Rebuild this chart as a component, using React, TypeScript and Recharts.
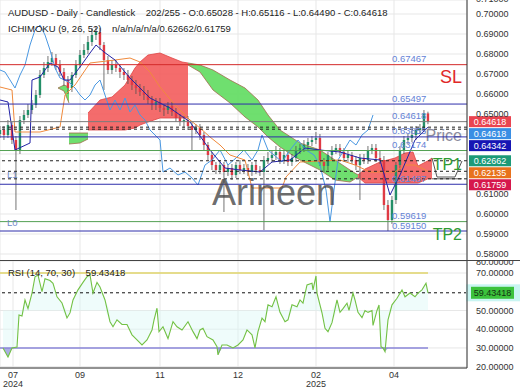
import React from 'react';
import { ComposedChart, Bar, Line, Area, XAxis, YAxis, CartesianGrid, ReferenceLine } from 'recharts';

const FONT = '"Liberation Sans", Arial, Helvetica, sans-serif';

// daily candles, one slot per bar
const OPENS = [
  0.6400, 0.6420, 0.6395, 0.6445, 0.6370, 0.6320, 0.6470, 0.6495, 0.6520, 0.6545,
  0.6595, 0.6695, 0.6730, 0.6760, 0.6780, 0.6745, 0.6710, 0.6670, 0.6630, 0.6695,
  0.6745, 0.6795, 0.6820, 0.6860, 0.6895, 0.6910, 0.6845, 0.6770, 0.6720, 0.6745,
  0.6730, 0.6710, 0.6695, 0.6670, 0.6645, 0.6630, 0.6610, 0.6595, 0.6570, 0.6545,
  0.6560, 0.6530, 0.6520, 0.6540, 0.6510, 0.6480, 0.6460, 0.6470, 0.6440, 0.6420,
  0.6430, 0.6395, 0.6345, 0.6295, 0.6245, 0.6220, 0.6245, 0.6210, 0.6230, 0.6195,
  0.6245, 0.6220, 0.6230, 0.6210, 0.6245, 0.6220, 0.6210, 0.6270, 0.6280, 0.6295,
  0.6310, 0.6270, 0.6295, 0.6260, 0.6280, 0.6320, 0.6330, 0.6345, 0.6360, 0.6370,
  0.6380, 0.6260, 0.6240, 0.6295, 0.6320, 0.6330, 0.6310, 0.6280, 0.6295, 0.6270,
  0.6245, 0.6280, 0.6270, 0.6320, 0.6330, 0.6280, 0.6270, 0.6045, 0.5970, 0.6070,
  0.6245, 0.6320, 0.6370, 0.6380, 0.6395, 0.6420, 0.6430, 0.65028,
];
const HIGHS = [
  0.644, 0.644, 0.647, 0.646, 0.639, 0.649, 0.652, 0.655, 0.657, 0.662,
  0.672, 0.676, 0.679, 0.681, 0.680, 0.677, 0.673, 0.669, 0.671, 0.677,
  0.682, 0.685, 0.689, 0.693, 0.694, 0.693, 0.686, 0.679, 0.677, 0.677,
  0.675, 0.673, 0.672, 0.669, 0.667, 0.665, 0.664, 0.662, 0.659, 0.658,
  0.658, 0.655, 0.656, 0.656, 0.653, 0.650, 0.649, 0.649, 0.646, 0.645,
  0.645, 0.641, 0.636, 0.631, 0.626, 0.627, 0.626, 0.625, 0.625, 0.626,
  0.627, 0.625, 0.625, 0.626, 0.627, 0.624, 0.629, 0.631, 0.632, 0.634,
  0.633, 0.632, 0.631, 0.630, 0.634, 0.635, 0.637, 0.638, 0.639, 0.641,
  0.640, 0.628, 0.631, 0.634, 0.635, 0.635, 0.633, 0.632, 0.631, 0.629,
  0.630, 0.630, 0.634, 0.635, 0.635, 0.632, 0.629, 0.607, 0.609, 0.626,
  0.634, 0.639, 0.640, 0.642, 0.644, 0.645, 0.652, 0.65116,
];
const LOWS = [
  0.638, 0.637, 0.638, 0.635, 0.602, 0.630, 0.645, 0.648, 0.650, 0.653,
  0.658, 0.668, 0.671, 0.674, 0.672, 0.669, 0.664, 0.660, 0.661, 0.668,
  0.673, 0.678, 0.680, 0.684, 0.687, 0.682, 0.662, 0.670, 0.670, 0.671,
  0.668, 0.667, 0.665, 0.662, 0.660, 0.659, 0.657, 0.655, 0.652, 0.652,
  0.651, 0.649, 0.650, 0.649, 0.646, 0.644, 0.643, 0.642, 0.632, 0.640,
  0.637, 0.632, 0.627, 0.622, 0.620, 0.620, 0.601, 0.619, 0.617, 0.618,
  0.620, 0.620, 0.619, 0.619, 0.620, 0.619, 0.592, 0.625, 0.626, 0.627,
  0.625, 0.625, 0.624, 0.624, 0.626, 0.630, 0.631, 0.632, 0.634, 0.635,
  0.624, 0.621, 0.622, 0.627, 0.630, 0.629, 0.626, 0.626, 0.625, 0.622,
  0.607, 0.625, 0.625, 0.630, 0.626, 0.625, 0.602, 0.5915, 0.595, 0.605,
  0.622, 0.630, 0.635, 0.636, 0.637, 0.640, 0.641, 0.6449,
];
const CLOSES = [
  0.6420, 0.6395, 0.6445, 0.6370, 0.6320, 0.6470, 0.6495, 0.6520, 0.6545, 0.6595,
  0.6695, 0.6730, 0.6760, 0.6780, 0.6745, 0.6710, 0.6670, 0.6630, 0.6695, 0.6745,
  0.6795, 0.6820, 0.6860, 0.6895, 0.6910, 0.6845, 0.6770, 0.6720, 0.6745, 0.6730,
  0.6710, 0.6695, 0.6670, 0.6645, 0.6630, 0.6610, 0.6595, 0.6570, 0.6545, 0.6560,
  0.6530, 0.6520, 0.6540, 0.6510, 0.6480, 0.6460, 0.6470, 0.6440, 0.6420, 0.6430,
  0.6395, 0.6345, 0.6295, 0.6245, 0.6220, 0.6245, 0.6210, 0.6230, 0.6195, 0.6245,
  0.6220, 0.6230, 0.6210, 0.6245, 0.6220, 0.6210, 0.6270, 0.6280, 0.6295, 0.6310,
  0.6270, 0.6295, 0.6260, 0.6280, 0.6320, 0.6330, 0.6345, 0.6360, 0.6370, 0.6380,
  0.6260, 0.6240, 0.6295, 0.6320, 0.6330, 0.6310, 0.6280, 0.6295, 0.6270, 0.6245,
  0.6280, 0.6270, 0.6320, 0.6330, 0.6280, 0.6270, 0.6045, 0.5970, 0.6070, 0.6245,
  0.6320, 0.6370, 0.6380, 0.6395, 0.6420, 0.6430, 0.6503, 0.64618,
];

// ichimoku lines: [bar, price]
const TENKAN = [
  [0, 0.657], [2, 0.656], [3.75, 0.632], [7.5, 0.6355], [8, 0.667], [10, 0.6685], [12.5, 0.6755],
  [14.5, 0.6735], [16, 0.667], [17.5, 0.667], [20, 0.6735], [22.5, 0.6805], [24, 0.6845], [26, 0.681],
  [28.75, 0.677], [32.5, 0.668], [37.5, 0.658], [42.5, 0.653], [47.5, 0.646], [52.5, 0.632],
  [56.25, 0.623], [60, 0.622], [65, 0.621], [68, 0.626], [72.5, 0.627], [76.25, 0.633], [80, 0.632],
  [85, 0.631], [90, 0.628], [95, 0.627], [97.5, 0.6095], [100, 0.6195], [103.75, 0.637], [107, 0.64342],
];
const KIJUN = [
  [0, 0.6635], [3, 0.662], [3.75, 0.641], [10, 0.641], [15, 0.6435], [16.25, 0.6595], [18.75, 0.6645],
  [22.5, 0.6755], [28.75, 0.677], [32.5, 0.678], [35, 0.676], [37.5, 0.671], [40, 0.6635],
  [43.75, 0.6545], [47.5, 0.647], [50, 0.643], [52.5, 0.6385], [55, 0.6345], [57.5, 0.6295],
  [61.25, 0.627], [63, 0.613], [70.5, 0.613], [71.5, 0.6185], [75, 0.626], [85, 0.627],
  [88.75, 0.6245], [92.5, 0.621], [98.75, 0.621], [101.25, 0.6245], [103.75, 0.6245], [107, 0.62135],
];
const CHIKOU = [
  [0, 0.672], [1.25, 0.671], [2.5, 0.667], [3.75, 0.663], [5, 0.6695], [6.25, 0.6745], [7.5, 0.6845],
  [8.75, 0.692], [10, 0.6945], [11.25, 0.6895], [12.5, 0.682], [13.75, 0.673], [15, 0.668],
  [16.25, 0.667], [17.5, 0.6655], [18.75, 0.663], [20, 0.6595], [21.25, 0.657], [22.5, 0.6595],
  [23.75, 0.6645], [25, 0.667], [26.25, 0.6595], [27.5, 0.652], [28.75, 0.657], [30, 0.652],
  [31.25, 0.658], [32.5, 0.651], [33.75, 0.6545], [35, 0.6495], [36.25, 0.647], [37.5, 0.642],
  [38.75, 0.6395], [40, 0.637], [40.75, 0.621], [42.5, 0.623], [44.5, 0.6195], [46.25, 0.621],
  [48, 0.618], [49.5, 0.6145], [51.25, 0.6245], [53, 0.627], [55, 0.632], [57, 0.6245], [59, 0.628],
  [61, 0.632], [63, 0.627], [64.5, 0.632], [65.5, 0.6395], [67, 0.632], [68.5, 0.6295], [70.5, 0.626],
  [72.5, 0.632], [74.5, 0.637], [76.5, 0.632], [78.5, 0.6295], [80, 0.6245], [81.5, 0.612],
  [82.5, 0.596], [83.5, 0.612], [84.5, 0.627], [86, 0.632], [87.5, 0.637], [89, 0.6345],
  [90.5, 0.6395], [92, 0.642], [93.25, 0.6495],
];

// kumo pieces: [bar, lower span, upper span]
const KUMO_GREEN_1 = [[14.5, 0.663, 0.663], [16, 0.6615, 0.6645], [17.25, 0.6555, 0.6635]];
const KUMO_GREEN_2 = [[17.25, 0.635, 0.6405], [20, 0.6355, 0.6405], [22, 0.6375, 0.6405]];
const KUMO_RED_1 = [
  [22, 0.642, 0.6505], [25, 0.642, 0.657], [28, 0.642, 0.6585], [31.25, 0.642, 0.6645],
  [33.75, 0.643, 0.673], [35, 0.6445, 0.676], [37, 0.646, 0.6795], [40, 0.648, 0.6805],
  [43, 0.648, 0.678], [45.5, 0.648, 0.676], [47, 0.648, 0.6755],
];
const KUMO_GREEN_3 = [
  [47, 0.6745, 0.6755], [50, 0.671, 0.6745], [53.25, 0.662, 0.672], [57.5, 0.6555, 0.667],
  [61.25, 0.6485, 0.663], [64.5, 0.6435, 0.657], [67, 0.6385, 0.6495], [70, 0.6335, 0.642],
  [75, 0.627, 0.6355], [80, 0.622, 0.632], [83.75, 0.617, 0.627], [87.5, 0.616, 0.622],
  [89.5, 0.6185, 0.6195],
];
const KUMO_RED_2 = [
  [89.5, 0.6185, 0.6195], [91.25, 0.6155, 0.6225], [95, 0.6155, 0.626], [98.75, 0.6155, 0.628],
  [101.25, 0.6155, 0.6305], [103.25, 0.6155, 0.631], [104.5, 0.6155, 0.624], [107, 0.6176, 0.6266],
  [108, 0.6176, 0.628],
];
// projected kumo past the last bar, drawn as outline only
const KUMO_TAIL = [
  [108, 0.6176, 0.628], [109.25, 0.6176, 0.6185], [113.75, 0.6176, 0.6185], [115.5, 0.6176, 0.6265],
];

// horizontal levels
const LEVEL_VALUES = [0.67467, 0.65497, 0.64618, 0.63855, 0.63174, 0.61487, 0.59619, 0.5915];
const LEVEL_KINDS = ['stop', 'band', 'last', 'band', 'target', 'band', 'target', 'band'];
const LEVEL_NOTES = ['SL', '', 'Price', '', 'TP1', '', 'L0', 'TP2'];
const DASHED_VALUES = [0.64342, 0.6424, 0.62662, 0.62135, 0.61759];
const DASHED_NOTES = ['', '', '', '', 'L1'];
// right axis tags: last, chikou, tenkan, span A, kijun, span B
const TAG_VALUES = [0.64618, 0.64618, 0.64342, 0.62662, 0.62135, 0.61759];

const PRICE_TICKS = [0.58, 0.59, 0.6, 0.61, 0.62, 0.63, 0.64, 0.65, 0.66, 0.67, 0.68, 0.69, 0.7, 0.71];

// RSI(14): [bar, value]
const RSI = [
  [0.75, 30], [2, 25.2], [3, 30], [4.25, 30.5], [4.75, 47.6], [5.5, 47], [6.25, 55.6], [7, 51],
  [8, 59.3], [8.75, 68], [9.5, 68.9], [10.5, 60], [11.25, 67], [12.5, 66], [13.25, 64.5],
  [14.25, 57.3], [15.5, 54], [16.75, 46], [17.5, 48.7], [18.25, 55.6], [19.5, 61], [20.75, 65],
  [21.75, 68], [22.5, 69], [23.25, 59.3], [24.25, 65], [25, 62.5], [26.25, 55.6], [27.5, 44],
  [28.25, 41.3], [29.25, 45], [30.5, 42.5], [31.75, 42.5], [33, 37], [34.25, 34.3], [35.5, 31.6],
  [36.75, 34.3], [38, 39.6], [38.5, 44.8], [39.25, 51.2], [39.75, 38.7], [40.75, 41.3], [42, 35],
  [43.25, 44], [44.25, 41.3], [45.5, 39.6], [47, 44], [48.25, 38.7], [49.25, 35], [50, 39.6],
  [50.75, 40.5], [51.75, 36], [53.25, 34.3], [54.25, 30.7], [54.5, 26.3], [55.5, 31.6],
  [56.75, 31.6], [58.25, 30], [59.5, 31.6], [60.75, 34.3], [61.75, 39.6], [63, 37], [63.75, 30],
  [64.5, 38.7], [65.5, 45.9], [66.25, 44], [67, 53], [68, 52], [69, 57.3], [70, 49], [71.25, 44],
  [72, 45], [73, 53], [74.25, 52], [75, 55.6], [75.75, 53.9], [76.75, 63.6], [78, 64.5], [78.25, 61],
  [79, 68.4], [79.25, 59.3], [80.5, 48.7], [81.25, 40.5], [82, 38.7], [83, 43.5], [84.25, 55.6],
  [85, 49], [85.75, 51], [86.75, 53.9], [87.25, 50], [88.25, 59.3], [88.75, 55.6], [89.5, 49],
  [90.5, 46.2], [91.25, 50], [92, 49], [93, 50], [93.25, 42], [94.25, 50], [94.75, 52.9],
  [95.25, 30.7], [95.75, 30], [96.25, 28], [97, 45], [98, 53], [99.25, 56.5], [100.5, 61],
  [101.25, 57.3], [102.5, 59.3], [103.75, 57.3], [104.5, 59.3], [105.5, 61], [106.5, 64.5], [107, 59.43418],
];
const RSI_LAST = 59.43418;
const RSI_TICKS = [20, 30, 40, 50, 70, 80];

const TICK_POS = [3.25, 20, 40, 59.5, 79, 98.5];
const TICK_LABELS = ['07', '09', '11', '12', '02', '04'];
const TICK_YEARS = ['2024', '', '', '', '2025', ''];

const X_DOMAIN = [0, 116.75];
const Y_DOMAIN = [0.5765, 0.707];
const RSI_DOMAIN = [19.3, 76.4];
const MAIN_H = 261;

const candles = OPENS.map((o, i) => ({ x: i, o, h: HIGHS[i], l: LOWS[i], c: CLOSES[i], range: [LOWS[i], HIGHS[i]] }));
const pts = (arr: number[][]) => arr.map(([x, y]) => ({ x, y }));
const band = (arr: number[][]) => arr.map(([x, lo, hi]) => ({ x, r: [lo, hi] }));
const rsiRows = RSI.map(([x, v]) => ({ x, v }));

const LEVEL_COLORS: Record<string, string> = {
  stop: '#d42a2a', band: '#2e2eaa', last: '#7c7c7c', target: '#52a052',
};
const NOTE_STYLE: Record<string, { color: string; size: number; dy: number }> = {
  SL: { color: '#e02828', size: 18, dy: 18 },
  Price: { color: '#8a8a9c', size: 16, dy: 19.5 },
  TP1: { color: '#2f9a32', size: 16, dy: 19.5 },
  TP2: { color: '#2f9a32', size: 16, dy: 9 },
  L0: { color: '#7088c8', size: 9.5, dy: 4.5 },
  L1: { color: '#7088c8', size: 9.5, dy: -1 },
};
const TAG_COLORS = ['#ea4450', '#3a8ee4', '#1616b4', '#1c9a78', '#e8721c', '#d6184c'];

// push right-axis tags apart so they don't overlap
const pxOf = (v: number) => ((Y_DOMAIN[1] - v) / (Y_DOMAIN[1] - Y_DOMAIN[0])) * MAIN_H;
const tagY = (() => {
  let last = -Infinity;
  return TAG_VALUES.map((v) => {
    const y = Math.max(pxOf(v), last + 12);
    last = y;
    return y;
  });
})();
const tagShift = TAG_VALUES.map((v, k) => tagY[k] - pxOf(v));

function Candle(p: any) {
  const { x, y, width, height, payload } = p;
  if (!payload || !isFinite(y) || !isFinite(height)) return null;
  const top = height >= 0 ? y : y + height;
  const h = Math.abs(height);
  const span = payload.h - payload.l || 1e-9;
  const at = (v: number) => top + ((payload.h - v) / span) * h;
  const up = payload.c >= payload.o;
  const b1 = at(Math.max(payload.o, payload.c));
  const b2 = at(Math.min(payload.o, payload.c));
  const cx = x + (width || 0) / 2;
  const bw = 2.4;
  return (
    <g>
      <line x1={cx} x2={cx} y1={top} y2={top + h} stroke="#505050" strokeWidth={0.8} />
      <rect x={cx - bw / 2} y={b1} width={bw} height={Math.max(1, b2 - b1)} fill={up ? '#238f68' : '#df3a44'} />
    </g>
  );
}

const PriceTick = (p: any) => {
  // labels hidden under a coloured tag are not drawn
  if (tagY.some((ty) => Math.abs(ty - p.y) < 7)) return null;
  return (
    <text x={p.x} y={Math.max(p.y, -1)} dy={3.2} fontSize={9} fill="#333" fontFamily={FONT}>
      {Number(p.payload.value).toFixed(5)}
    </text>
  );
};

const RsiTick = (p: any) => (
  <text x={p.x} y={Math.max(p.y, 1)} dy={3.2} fontSize={9} fill="#333" fontFamily={FONT}>
    {Number(p.payload.value).toFixed(5)}
  </text>
);

const DateTick = (p: any) => {
  const k = TICK_POS.indexOf(p.payload.value);
  return (
    <g fontFamily={FONT} fontSize={9} fill="#333">
      <text x={p.x} y={p.y + 10} textAnchor="middle">{TICK_LABELS[k]}</text>
      {TICK_YEARS[k] ? <text x={p.x} y={p.y + 19} textAnchor="middle">{TICK_YEARS[k]}</text> : null}
    </g>
  );
};

function levelLabel(value: number | null, note: string) {
  return (lp: any) => {
    const vb = lp.viewBox || {};
    if (vb.y == null) return null;
    const right = vb.x + vb.width;
    const ns = note ? NOTE_STYLE[note] : null;
    const leftNote = /^L\d/.test(note);
    return (
      <g fontFamily={FONT}>
        {value != null ? (
          <text x={right - 75} y={vb.y - 2.5} fontSize={9.5} fill="#6482d6">{value.toFixed(5)}</text>
        ) : null}
        {ns ? (
          <text x={leftNote ? vb.x + 7 : right - 5} y={vb.y + ns.dy} fontSize={ns.size}
            textAnchor={leftNote ? 'start' : 'end'} fill={ns.color}>{note}</text>
        ) : null}
      </g>
    );
  };
}

function tagLabel(k: number) {
  return (lp: any) => {
    const vb = lp.viewBox || {};
    if (vb.y == null) return null;
    const y = vb.y + tagShift[k];
    const x0 = vb.x + vb.width + 2;
    return (
      <g fontFamily={FONT}>
        <rect x={x0} y={y - 5.5} width={42} height={11} fill={TAG_COLORS[k]} />
        <text x={x0 + 21} y={y + 3.3} fontSize={9} fill="#fff" textAnchor="middle">{TAG_VALUES[k].toFixed(5)}</text>
      </g>
    );
  };
}

const rsiTag = (lp: any) => {
  const vb = lp.viewBox || {};
  if (vb.y == null) return null;
  const x0 = vb.x + vb.width;
  return (
    <g fontFamily={FONT}>
      <rect x={x0 - 1} y={vb.y - 8.5} width={54} height={17} fill="#c9f5f2" />
      <rect x={x0 + 4} y={vb.y - 6} width={43} height={12} fill="#3cc23c" />
      <text x={x0 + 25.5} y={vb.y + 3.3} fontSize={9} fill="#123312" textAnchor="middle">{RSI_LAST.toFixed(5)}</text>
    </g>
  );
};

function MainPanel() {
  return (
    <ComposedChart width={520} height={MAIN_H} data={candles} margin={{ top: 0, right: 0, bottom: 0, left: 0 }}>
      <CartesianGrid stroke="#e7e7e7" />
      <XAxis type="number" dataKey="x" domain={X_DOMAIN} allowDataOverflow ticks={TICK_POS} hide />
      <YAxis orientation="right" type="number" domain={Y_DOMAIN} allowDataOverflow ticks={PRICE_TICKS}
        interval={0} width={53} tickSize={0} tickMargin={9} axisLine={{ stroke: '#333' }} tick={<PriceTick />} />
      <Line data={pts(CHIKOU)} dataKey="y" type="linear" stroke="#4a98e2" strokeWidth={1} dot={false} activeDot={false} isAnimationActive={false} />
      {[KUMO_GREEN_1, KUMO_GREEN_2, KUMO_GREEN_3].map((c, k) => (
        <Area key={'g' + k} data={band(c)} dataKey="r" type="linear" fill="#5fdc5f" fillOpacity={0.9}
          stroke="#a06c4c" strokeWidth={0.8} dot={false} activeDot={false} isAnimationActive={false} />
      ))}
      {[KUMO_RED_1, KUMO_RED_2].map((c, k) => (
        <Area key={'r' + k} data={band(c)} dataKey="r" type="linear" fill="#f25858" fillOpacity={0.88}
          stroke="#e04444" strokeWidth={0.8} dot={false} activeDot={false} isAnimationActive={false} />
      ))}
      <Area data={band(KUMO_TAIL)} dataKey="r" type="linear" fill="none" stroke="#555"
        strokeWidth={1} dot={false} activeDot={false} isAnimationActive={false} />
      <Line data={pts(KIJUN)} dataKey="y" type="linear" stroke="#f08a3c" strokeWidth={1} dot={false} activeDot={false} isAnimationActive={false} />
      <Line data={pts(TENKAN)} dataKey="y" type="linear" stroke="#2222a6" strokeWidth={1} dot={false} activeDot={false} isAnimationActive={false} />
      <Bar dataKey="range" barSize={3} shape={(p: any) => <Candle {...p} />} isAnimationActive={false} />
      {DASHED_VALUES.map((v, k) => (
        <ReferenceLine key={'d' + k} y={v} stroke="#222" strokeWidth={1} strokeDasharray="3 3"
          label={levelLabel(null, DASHED_NOTES[k])} />
      ))}
      {LEVEL_VALUES.map((v, k) => (
        <ReferenceLine key={'l' + k} y={v} stroke={LEVEL_COLORS[LEVEL_KINDS[k]]} strokeWidth={1}
          label={levelLabel(v, LEVEL_NOTES[k])} />
      ))}
      {TAG_VALUES.map((v, k) => (
        <ReferenceLine key={'t' + k} y={v} stroke="none" label={tagLabel(k)} />
      ))}
    </ComposedChart>
  );
}

function RsiPanel() {
  const lastBar = RSI[RSI.length - 1][0];
  return (
    <ComposedChart width={520} height={129} data={rsiRows} margin={{ top: 0, right: 0, bottom: 0, left: 0 }}>
      <CartesianGrid stroke="#e7e7e7" />
      <XAxis type="number" dataKey="x" domain={X_DOMAIN} allowDataOverflow ticks={TICK_POS} interval={0}
        height={22} tickSize={0} tickMargin={0} axisLine={{ stroke: '#333' }} tick={<DateTick />} />
      <YAxis orientation="right" type="number" domain={RSI_DOMAIN} allowDataOverflow ticks={RSI_TICKS}
        interval={0} width={53} tickSize={0} tickMargin={9} axisLine={{ stroke: '#333' }} tick={<RsiTick />} />
      <Area dataKey={(d: any) => [Math.min(d.v, 50), Math.max(d.v, 50)]} type="linear" fill="#dcf8f6"
        fillOpacity={0.45} stroke="none" dot={false} activeDot={false} isAnimationActive={false} />
      <Area dataKey={(d: any) => (d.v < 30 ? [d.v, 30] : [30, 30])} type="linear" fill="#7c7ad4"
        stroke="none" dot={false} activeDot={false} isAnimationActive={false} />
      <ReferenceLine segment={[{ x: 0, y: 70 }, { x: lastBar, y: 70 }]} stroke="#e0d46a" strokeWidth={1.5} />
      <ReferenceLine segment={[{ x: 0, y: 30 }, { x: lastBar, y: 30 }]} stroke="#8a86d8" strokeWidth={1.5} />
      <ReferenceLine y={RSI_LAST} stroke="#111" strokeDasharray="3 3" label={rsiTag} />
      <Line dataKey="v" type="linear" stroke="#72c144" strokeWidth={1.1} dot={false} activeDot={false} isAnimationActive={false} />
    </ComposedChart>
  );
}

const headStyle: React.CSSProperties = {
  position: 'absolute', left: 8, fontSize: 9.5, lineHeight: '12px', color: '#222',
  whiteSpace: 'pre', fontFamily: FONT, pointerEvents: 'none',
};

export default function App() {
  return (
    <div style={{ position: 'absolute', left: 0, top: 0, width: 520, height: 390, background: '#fff', overflow: 'hidden', fontFamily: FONT }}>
      <div style={{ position: 'absolute', left: 0, top: 0 }}>
        <MainPanel />
      </div>
      <div style={{ position: 'absolute', left: 0, top: 261 }}>
        <RsiPanel />
      </div>
      <div style={{ position: 'absolute', left: 0, top: 260, width: 520, height: 1, background: '#444' }} />
      <div style={{ ...headStyle, top: 6.5 }}>
        {'AUDUSD - Daily - Candlestick    202/255 - O:0.65028 - H:0.65116 - L:0.64490 - C:0.64618'}
      </div>
      <div style={{ ...headStyle, top: 23 }}>{'ICHIMOKU (9, 26, 52)    n/a/n/a/n/a/0.62662/0.61759'}</div>
      <div style={{ ...headStyle, top: 267 }}>{'RSI (14, 70, 30)    59.43418'}</div>
      <div style={{ position: 'absolute', left: 212, top: 175, fontSize: 36, lineHeight: 1, color: 'rgba(70,70,70,0.8)', fontFamily: FONT, pointerEvents: 'none' }}>
        Arineen
      </div>
    </div>
  );
}
